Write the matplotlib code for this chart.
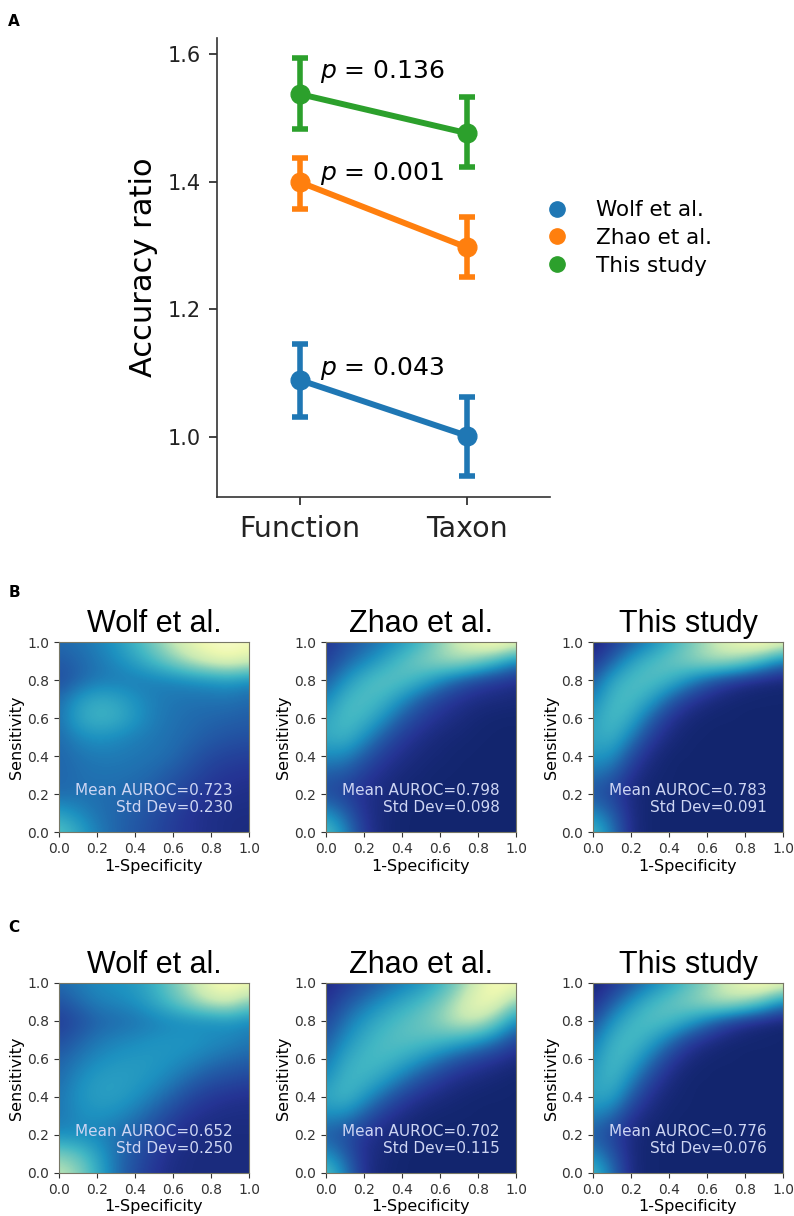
import numpy as np
import matplotlib
matplotlib.use('Agg')
from matplotlib import pyplot as plt
from matplotlib.lines import Line2D

plt.rcParams['font.family'] = ['DejaVu Sans']

# ---- panel A data (point estimates + CI) ----
groups = ['Function', 'Taxon']
studies = ['Wolf et al.', 'Zhao et al.', 'This study']
colors = ['#1f77b4', '#ff7f0e', '#2ca02c']
means = {
    'Wolf et al.': [1.089, 1.002],
    'Zhao et al.': [1.399, 1.297],
    'This study': [1.537, 1.476],
}
ci_low = {
    'Wolf et al.': [1.031, 0.939],
    'Zhao et al.': [1.357, 1.250],
    'This study': [1.482, 1.423],
}
ci_high = {
    'Wolf et al.': [1.146, 1.063],
    'Zhao et al.': [1.437, 1.344],
    'This study': [1.594, 1.533],
}
pvals = {'Wolf et al.': '0.043', 'Zhao et al.': '0.001', 'This study': '0.136'}
p_y = {'Wolf et al.': 1.108, 'Zhao et al.': 1.413, 'This study': 1.572}

# ---- panels B / C: ROC density (rows: sens 1.0 -> 0.0, cols: 1-spec 0.0 -> 1.0) ----
b_wolf = [
    [0.28, 0.30, 0.34, 0.40, 0.50, 0.62, 0.76, 0.86, 0.93, 0.96, 0.92],
    [0.24, 0.27, 0.31, 0.36, 0.43, 0.52, 0.63, 0.74, 0.82, 0.86, 0.80],
    [0.20, 0.26, 0.31, 0.32, 0.32, 0.33, 0.34, 0.36, 0.38, 0.40, 0.36],
    [0.28, 0.40, 0.46, 0.44, 0.38, 0.33, 0.31, 0.30, 0.30, 0.30, 0.28],
    [0.30, 0.44, 0.50, 0.48, 0.40, 0.33, 0.30, 0.28, 0.27, 0.26, 0.25],
    [0.28, 0.35, 0.38, 0.36, 0.33, 0.31, 0.29, 0.27, 0.24, 0.22, 0.21],
    [0.27, 0.30, 0.32, 0.32, 0.31, 0.30, 0.28, 0.23, 0.19, 0.17, 0.16],
    [0.27, 0.29, 0.30, 0.30, 0.29, 0.27, 0.23, 0.19, 0.15, 0.13, 0.12],
    [0.28, 0.29, 0.29, 0.28, 0.27, 0.24, 0.19, 0.15, 0.12, 0.11, 0.10],
    [0.42, 0.36, 0.30, 0.27, 0.24, 0.20, 0.16, 0.12, 0.10, 0.09, 0.09],
    [0.56, 0.45, 0.33, 0.27, 0.23, 0.19, 0.15, 0.12, 0.10, 0.09, 0.08],
]
b_zhao = [
    [0.12, 0.20, 0.26, 0.32, 0.40, 0.50, 0.64, 0.78, 0.90, 0.96, 0.88],
    [0.16, 0.26, 0.34, 0.44, 0.54, 0.62, 0.68, 0.70, 0.62, 0.50, 0.35],
    [0.24, 0.38, 0.50, 0.56, 0.55, 0.48, 0.36, 0.25, 0.18, 0.14, 0.11],
    [0.34, 0.50, 0.54, 0.50, 0.38, 0.25, 0.17, 0.12, 0.09, 0.08, 0.07],
    [0.44, 0.53, 0.50, 0.38, 0.24, 0.16, 0.11, 0.08, 0.06, 0.05, 0.05],
    [0.46, 0.50, 0.38, 0.24, 0.15, 0.10, 0.07, 0.06, 0.05, 0.05, 0.05],
    [0.36, 0.35, 0.24, 0.15, 0.10, 0.07, 0.06, 0.05, 0.05, 0.05, 0.05],
    [0.24, 0.22, 0.15, 0.10, 0.07, 0.06, 0.05, 0.05, 0.05, 0.05, 0.05],
    [0.20, 0.16, 0.11, 0.08, 0.06, 0.05, 0.05, 0.05, 0.05, 0.05, 0.05],
    [0.38, 0.26, 0.12, 0.07, 0.05, 0.05, 0.05, 0.05, 0.05, 0.05, 0.05],
    [0.55, 0.36, 0.14, 0.07, 0.05, 0.05, 0.05, 0.05, 0.05, 0.05, 0.05],
]
b_this = [
    [0.06, 0.14, 0.24, 0.34, 0.46, 0.58, 0.70, 0.82, 0.91, 0.96, 0.88],
    [0.12, 0.26, 0.42, 0.52, 0.58, 0.64, 0.70, 0.70, 0.62, 0.48, 0.32],
    [0.24, 0.44, 0.53, 0.55, 0.50, 0.38, 0.25, 0.16, 0.10, 0.07, 0.06],
    [0.34, 0.51, 0.53, 0.44, 0.27, 0.15, 0.09, 0.06, 0.05, 0.05, 0.05],
    [0.42, 0.53, 0.46, 0.27, 0.13, 0.07, 0.05, 0.05, 0.05, 0.05, 0.05],
    [0.44, 0.49, 0.33, 0.16, 0.08, 0.05, 0.05, 0.05, 0.05, 0.05, 0.05],
    [0.40, 0.38, 0.20, 0.09, 0.05, 0.05, 0.05, 0.05, 0.05, 0.05, 0.05],
    [0.30, 0.25, 0.12, 0.06, 0.05, 0.05, 0.05, 0.05, 0.05, 0.05, 0.05],
    [0.22, 0.17, 0.08, 0.05, 0.05, 0.05, 0.05, 0.05, 0.05, 0.05, 0.05],
    [0.36, 0.25, 0.09, 0.05, 0.05, 0.05, 0.05, 0.05, 0.05, 0.05, 0.05],
    [0.52, 0.32, 0.09, 0.05, 0.05, 0.05, 0.05, 0.05, 0.05, 0.05, 0.05],
]
c_wolf = [
    [0.28, 0.32, 0.36, 0.38, 0.41, 0.48, 0.60, 0.74, 0.88, 0.94, 0.90],
    [0.22, 0.28, 0.33, 0.35, 0.38, 0.45, 0.55, 0.66, 0.76, 0.78, 0.64],
    [0.15, 0.20, 0.26, 0.28, 0.30, 0.33, 0.35, 0.36, 0.36, 0.38, 0.35],
    [0.20, 0.26, 0.31, 0.34, 0.36, 0.38, 0.39, 0.39, 0.37, 0.35, 0.32],
    [0.26, 0.31, 0.36, 0.39, 0.40, 0.40, 0.38, 0.35, 0.31, 0.28, 0.26],
    [0.28, 0.36, 0.41, 0.42, 0.41, 0.38, 0.33, 0.27, 0.22, 0.20, 0.18],
    [0.31, 0.38, 0.42, 0.42, 0.38, 0.32, 0.25, 0.18, 0.14, 0.12, 0.11],
    [0.31, 0.36, 0.38, 0.36, 0.31, 0.24, 0.17, 0.12, 0.10, 0.09, 0.09],
    [0.36, 0.36, 0.34, 0.30, 0.24, 0.18, 0.12, 0.09, 0.08, 0.08, 0.08],
    [0.62, 0.56, 0.43, 0.30, 0.22, 0.15, 0.10, 0.08, 0.08, 0.08, 0.08],
    [0.75, 0.66, 0.47, 0.30, 0.20, 0.13, 0.09, 0.08, 0.08, 0.08, 0.08],
]
c_zhao = [
    [0.08, 0.14, 0.20, 0.26, 0.32, 0.38, 0.48, 0.62, 0.80, 0.93, 0.90],
    [0.12, 0.22, 0.30, 0.38, 0.45, 0.52, 0.60, 0.74, 0.88, 0.86, 0.65],
    [0.18, 0.30, 0.40, 0.48, 0.54, 0.58, 0.66, 0.76, 0.76, 0.60, 0.36],
    [0.24, 0.37, 0.47, 0.53, 0.55, 0.55, 0.52, 0.47, 0.40, 0.30, 0.18],
    [0.30, 0.45, 0.51, 0.52, 0.47, 0.39, 0.30, 0.22, 0.16, 0.12, 0.08],
    [0.37, 0.50, 0.50, 0.43, 0.32, 0.22, 0.15, 0.10, 0.08, 0.06, 0.05],
    [0.45, 0.51, 0.40, 0.27, 0.17, 0.11, 0.08, 0.06, 0.05, 0.05, 0.05],
    [0.36, 0.35, 0.24, 0.14, 0.09, 0.06, 0.05, 0.05, 0.05, 0.05, 0.05],
    [0.24, 0.20, 0.13, 0.08, 0.06, 0.05, 0.05, 0.05, 0.05, 0.05, 0.05],
    [0.38, 0.25, 0.11, 0.07, 0.05, 0.05, 0.05, 0.05, 0.05, 0.05, 0.05],
    [0.56, 0.34, 0.11, 0.06, 0.05, 0.05, 0.05, 0.05, 0.05, 0.05, 0.05],
]
c_this = [
    [0.06, 0.12, 0.22, 0.32, 0.42, 0.53, 0.64, 0.77, 0.89, 0.95, 0.88],
    [0.10, 0.24, 0.38, 0.50, 0.57, 0.63, 0.70, 0.74, 0.68, 0.55, 0.36],
    [0.20, 0.38, 0.50, 0.55, 0.53, 0.44, 0.31, 0.19, 0.11, 0.07, 0.05],
    [0.30, 0.48, 0.53, 0.45, 0.31, 0.17, 0.10, 0.06, 0.05, 0.05, 0.05],
    [0.37, 0.52, 0.47, 0.31, 0.16, 0.08, 0.05, 0.05, 0.05, 0.05, 0.05],
    [0.42, 0.51, 0.36, 0.19, 0.09, 0.05, 0.05, 0.05, 0.05, 0.05, 0.05],
    [0.44, 0.44, 0.24, 0.11, 0.06, 0.05, 0.05, 0.05, 0.05, 0.05, 0.05],
    [0.34, 0.28, 0.13, 0.07, 0.05, 0.05, 0.05, 0.05, 0.05, 0.05, 0.05],
    [0.24, 0.17, 0.08, 0.05, 0.05, 0.05, 0.05, 0.05, 0.05, 0.05, 0.05],
    [0.36, 0.23, 0.08, 0.05, 0.05, 0.05, 0.05, 0.05, 0.05, 0.05, 0.05],
    [0.52, 0.30, 0.08, 0.05, 0.05, 0.05, 0.05, 0.05, 0.05, 0.05, 0.05],
]
b_auroc = ['0.723', '0.798', '0.783']
b_std = ['0.230', '0.098', '0.091']
c_auroc = ['0.652', '0.702', '0.776']
c_std = ['0.250', '0.115', '0.076']

fig = plt.figure(figsize=(7.94, 12.16), dpi=100)
W, H = 794.0, 1216.0


def px_axes(left, top, right, bottom):
    return fig.add_axes([left / W, 1 - bottom / H, (right - left) / W, (bottom - top) / H])


# ---------------- panel A ----------------
ax = px_axes(217, 38, 550, 497)
x = np.arange(len(groups))
for s, c in zip(studies, colors):
    m = np.array(means[s])
    lo = m - np.array(ci_low[s])
    hi = np.array(ci_high[s]) - m
    ax.errorbar(x, m, yerr=[lo, hi], color=c, lw=4.3, marker='o', ms=13.5,
                elinewidth=4.0, capsize=5.5, capthick=4.0, zorder=3)
    ax.text(0.12, p_y[s], '$p$ = ' + pvals[s], fontsize=18, va='center', ha='left', zorder=4)

ax.set_xlim(-0.5, 1.5)
ax.set_ylim(0.906, 1.625)
ax.set_xticks(x)
ax.set_xticklabels(groups, fontsize=20.5)
ax.set_yticks([1.0, 1.2, 1.4, 1.6])
ax.set_yticklabels(['1.0', '1.2', '1.4', '1.6'], fontsize=15)
ax.tick_params(axis='y', length=6, width=1.2, pad=5.5, colors='#222222')
ax.tick_params(axis='x', length=6, width=1.2, pad=7, colors='#222222')
ax.set_ylabel('Accuracy ratio', fontsize=22, labelpad=7)
for sp in ['top', 'right']:
    ax.spines[sp].set_visible(False)
for sp in ['left', 'bottom']:
    ax.spines[sp].set_linewidth(1.2)
    ax.spines[sp].set_color('#333333')

handles = [Line2D([0], [0], marker='o', ls='', color=c, ms=11) for c in colors]
fig.legend(handles, studies, loc='center left', bbox_to_anchor=(548 / W, 1 - 238 / H),
           frameon=False, fontsize=15.5, handlelength=0.8, handletextpad=1.45,
           labelspacing=0.35, borderpad=0, borderaxespad=0)

# ---------------- panels B / C ----------------
titles = ['Wolf et al.', 'Zhao et al.', 'This study']
rows = [(642, [b_wolf, b_zhao, b_this], b_auroc, b_std),
        (983, [c_wolf, c_zhao, c_this], c_auroc, c_std)]
lefts = [59, 326, 593]
for top, grids, aurocs, stds in rows:
    for left, title, grid, au, sd in zip(lefts, titles, grids, aurocs, stds):
        hx = px_axes(left, top, left + 190, top + 190)
        hx.imshow(np.array(grid), cmap='YlGnBu_r', vmin=0, vmax=1, origin='upper',
                  extent=(-0.05, 1.05, -0.05, 1.05), interpolation='bicubic', aspect='auto')
        hx.set_xlim(0, 1)
        hx.set_ylim(0, 1)
        ticks = [0.0, 0.2, 0.4, 0.6, 0.8, 1.0]
        hx.set_xticks(ticks)
        hx.set_yticks(ticks)
        hx.set_xticklabels(['%.1f' % t for t in ticks])
        hx.set_yticklabels(['%.1f' % t for t in ticks])
        hx.tick_params(labelsize=10, colors='#333333', length=3.5)
        hx.set_xlabel('1-Specificity', fontsize=11.5, labelpad=2)
        hx.set_ylabel('Sensitivity', fontsize=11.5, labelpad=2)
        hx.set_title(title, fontsize=22, family='Liberation Sans', pad=7)
        for sp in hx.spines.values():
            sp.set_color('#777766')
            sp.set_linewidth(0.8)
        hx.text(0.915, 0.173, 'Mean AUROC=%s\nStd Dev=%s' % (au, sd), transform=hx.transAxes,
                ha='right', va='center', multialignment='right', fontsize=11,
                color='#cdd5f3', linespacing=1.15)

fig.text(14 / W, 1 - 22 / H, 'A', fontsize=11, fontweight='bold', ha='center', va='center')
fig.text(14 / W, 1 - 592 / H, 'B', fontsize=11, fontweight='bold', ha='center', va='center')
fig.text(14 / W, 1 - 928 / H, 'C', fontsize=11, fontweight='bold', ha='center', va='center')

fig.savefig('out.png', dpi=100)
